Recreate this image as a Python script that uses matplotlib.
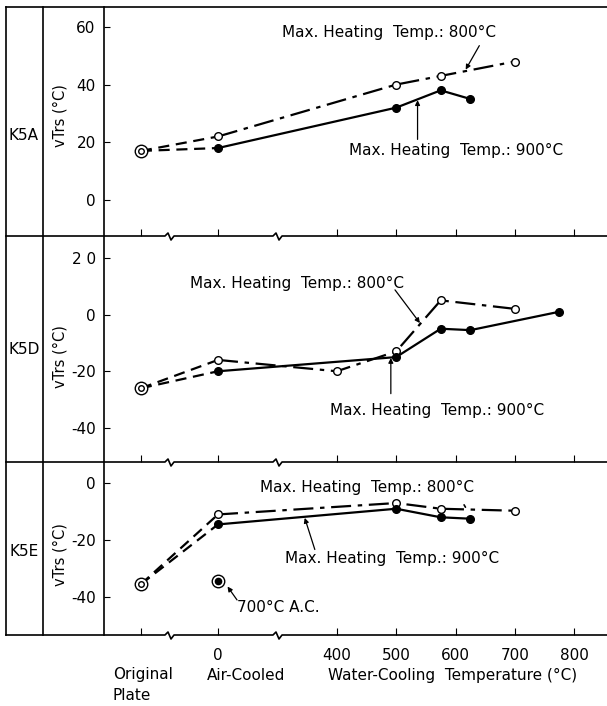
import matplotlib
matplotlib.use('Agg')
import matplotlib.pyplot as plt
from matplotlib.lines import Line2D

# x positions of the two non-numeric categories on the temperature scale
X_ORIGINAL = 70
X_AIR = 200

panels = ['K5A', 'K5D', 'K5E']

# vTrs (°C) of the original plate
orig_vtrs = [17, -26, -35.5]

# max heating temp 800°C (open circles)
h800_air = [22, -16, -11]
h800_wc_temp = [[500, 575, 700], [400, 500, 575, 700], [500, 575, 700]]
h800_wc_vtrs = [[40, 43, 48], [-20, -13, 5, 2], [-7, -9, -9.7]]

# max heating temp 900°C (filled circles)
h900_air = [18, -20, -14.5]
h900_wc_temp = [[500, 575, 625], [500, 575, 625, 775], [500, 575, 625]]
h900_wc_vtrs = [[32, 38, 35], [-15, -5, -5.5, 1], [-9, -12, -12.5]]

# K5E, 700°C air cooled
ac700_vtrs = -34.5

ylims = [(-12.5, 66.9), (-52, 27.7), (-53.3, 7.4)]
yticks = [[0, 20, 40, 60], [-40, -20, 0, 20], [-40, -20, 0]]
ytick_labels = [['0', '20', '40', '60'], ['-40', '-20', '0', '2 0'], ['-40', '-20', '0']]
xticks = [X_ORIGINAL, X_AIR, 400, 500, 600, 700, 800]
xtick_labels = ['', '0', '400', '500', '600', '700', '800']

W, H = 607, 706
def fx(x):
    return x / W
def fy(y):
    return 1 - y / H

fig = plt.figure(figsize=(W / 100, H / 100), dpi=100)
plt.rcParams['font.family'] = 'DejaVu Sans'

bounds = [(7, 236), (236, 462), (462, 635)]
dashdot = (0, (9, 3, 2, 3))
axes = []
for i, (top, bot) in enumerate(bounds):
    ax = fig.add_axes([fx(104), fy(bot), 1 - fx(104), (bot - top) / H])
    ax.set_facecolor('none')
    for s in ax.spines.values():
        s.set_visible(False)
    ax.set_xlim(8, 855)
    ax.set_ylim(*ylims[i])
    ax.set_yticks(yticks[i])
    ax.set_yticklabels(ytick_labels[i], fontsize=11)
    ax.set_xticks(xticks)
    ax.tick_params(axis='y', direction='in', length=4, width=0.8, pad=6, left=True)
    ax.tick_params(axis='x', direction='in', length=5, width=0.8, pad=9)
    if i < 2:
        ax.set_xticklabels([])
    else:
        ax.set_xticklabels(xtick_labels, fontsize=11)

    # 800°C series
    x8 = [X_ORIGINAL, X_AIR] + h800_wc_temp[i]
    y8 = [orig_vtrs[i], h800_air[i]] + h800_wc_vtrs[i]
    ax.plot(x8[:2], y8[:2], color='black', lw=1.6, ls=(0, (5, 3)))
    ax.plot(x8[1:], y8[1:], color='black', lw=1.6, ls=dashdot)
    ax.plot(x8[1:], y8[1:], 'o', color='black', mfc='white', ms=5.5, mew=1.0, zorder=4)

    # 900°C series
    x9 = [X_ORIGINAL, X_AIR] + h900_wc_temp[i]
    y9 = [orig_vtrs[i], h900_air[i]] + h900_wc_vtrs[i]
    ax.plot(x9[:2], y9[:2], color='black', lw=1.6, ls=(0, (5, 3)))
    ax.plot(x9[1:], y9[1:], color='black', lw=1.6, ls='-')
    ax.plot(x9[1:], y9[1:], 'o', color='black', ms=5.5, zorder=4)

    # original plate (double circle)
    ax.plot(X_ORIGINAL, orig_vtrs[i], 'o', color='black', mfc='white', ms=9, mew=1.0, zorder=5)
    ax.plot(X_ORIGINAL, orig_vtrs[i], 'o', color='black', mfc='white', ms=4, mew=1.0, zorder=6)
    axes.append(ax)

ax1, ax2, ax3 = axes
arrow = dict(arrowstyle='-|>', color='black', lw=0.9, mutation_scale=7, shrinkA=0, shrinkB=0)
tkw = dict(fontsize=11, ha='left', va='center')

# K5A labels
ax1.text(307, 58, 'Max. Heating  Temp.: 800°C', **tkw)
ax1.annotate('', xy=(617, 45.2), xytext=(640, 53.5), arrowprops=arrow)
ax1.text(420, 17, 'Max. Heating  Temp.: 900°C', **tkw)
ax1.annotate('', xy=(536, 34.6), xytext=(536, 21), arrowprops=arrow)

# K5D labels
ax2.text(153, 10.8, 'Max. Heating  Temp.: 800°C', **tkw)
ax2.annotate('', xy=(540, -3), xytext=(498, 8.7), arrowprops=arrow)
ax2.text(388, -33.9, 'Max. Heating  Temp.: 900°C', **tkw)
ax2.annotate('', xy=(491, -15.3), xytext=(491, -27.9), arrowprops=arrow)

# K5E labels
ax3.text(270, -1.7, 'Max. Heating  Temp.: 800°C', **tkw)
ax3.annotate('', xy=(619, -9.3), xytext=(612, -6.8), arrowprops=dict(arrowstyle='-', lw=1.2))
ax3.text(312, -26.4, 'Max. Heating  Temp.: 900°C', **tkw)
ax3.annotate('', xy=(346, -12.2), xytext=(363, -23.3), arrowprops=arrow)
ax3.plot(X_AIR, ac700_vtrs, 'o', color='black', mfc='white', ms=9, mew=1.0, zorder=5)
ax3.plot(X_AIR, ac700_vtrs, 'o', color='black', ms=4.5, zorder=6)
ax3.text(232, -43.5, '700°C A.C.', **tkw)
ax3.annotate('', xy=(216, -36.3), xytext=(232, -41), arrowprops=arrow)

# frame lines (table-like layout)
def fline(xs, ys, lw=1.2):
    fig.add_artist(Line2D([fx(x) for x in xs], [fy(y) for y in ys], color='black', lw=lw))

for x in (6, 43, 104):
    fline([x, x], [7, 635])
fline([6, W], [7, 7])
for y in (236, 462, 635):
    xs, ys = [6], [y]
    for zx in (170, 278):
        xs += [zx - 5, zx - 2, zx + 1, zx + 4]
        ys += [y, y - 3, y + 4, y]
    xs.append(W)
    ys.append(y)
    fline(xs, ys)

# row labels
for name, yc, ylab in zip(panels, (136, 350, 552), (116, 357, 555)):
    fig.text(fx(24), fy(yc), name, fontsize=11, ha='center', va='center')
    fig.text(fx(60), fy(ylab), 'vTrs (°C)', fontsize=10.5, rotation=90, ha='center', va='center')

# x category captions
fig.text(fx(113), fy(675), 'Original', fontsize=11, ha='left', va='center')
fig.text(fx(113), fy(696), 'Plate', fontsize=11, ha='left', va='center')
fig.text(fx(207), fy(675), 'Air-Cooled', fontsize=11, ha='left', va='center')
fig.text(fx(328), fy(675), 'Water-Cooling  Temperature (°C)', fontsize=11, ha='left', va='center')

fig.savefig('out.png', dpi=100)
